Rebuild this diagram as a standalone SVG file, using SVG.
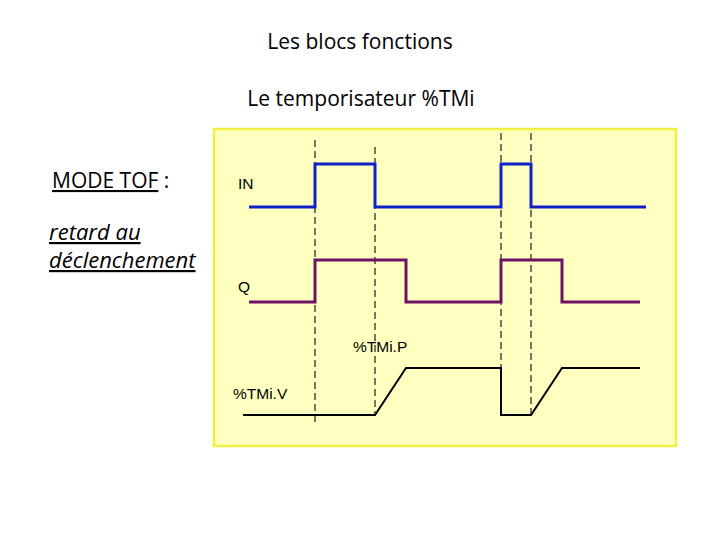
<svg xmlns="http://www.w3.org/2000/svg" width="720" height="540" viewBox="0 0 720 540">
<style>
.t{font-family:"Open Sans","Liberation Sans",sans-serif;fill:#000}
.big{font-size:21px}
.it{font-size:22px;font-style:italic}
.sm{font-family:"Liberation Sans",Arial,sans-serif;font-size:15.5px;fill:#000}
.dash{stroke:#7a7460;stroke-width:2;stroke-dasharray:7,4;fill:none}
.in{stroke:#1020c8;stroke-width:3;fill:none}
.q{stroke:#6e1268;stroke-width:3;fill:none}
.v{stroke:#000;stroke-width:2;fill:none}
</style>
<rect width="720" height="540" fill="#fff"/>
<text class="t big" x="360" y="49" text-anchor="middle">Les blocs fonctions</text>
<text class="t big" x="361" y="106" text-anchor="middle">Le temporisateur %TMi</text>
<g id="mode">
<text class="t big" x="52" y="188"><tspan text-decoration="underline">MODE TOF</tspan> :</text>
<text class="t it" x="49" y="240" text-decoration="underline">retard au</text>
<text class="t it" x="49" y="268" text-decoration="underline">déclenchement</text>
</g>
<g id="chart">
<rect x="214" y="129" width="462" height="317" fill="#ffffc0" stroke="#f0f040" stroke-width="2.5"/>
</g>
<g id="connectors">
<line class="dash" x1="315" y1="140" x2="315" y2="423"/>
<line class="dash" x1="375" y1="147" x2="375" y2="416"/>
<line class="dash" x1="501" y1="133" x2="501" y2="415"/>
<line class="dash" x1="531" y1="133" x2="531" y2="415"/>
</g>
<g id="signal-in">
<polyline class="in" points="249,207 315,207 315,164 375,164 375,207 501,207 501,164 531,164 531,207 646,207"/>
<text class="sm" x="238" y="189">IN</text>
</g>
<g id="signal-q">
<polyline class="q" points="249,302 315,302 315,260 406,260 406,302 501,302 501,260 562,260 562,302 640,302"/>
<text class="sm" x="238" y="292">Q</text>
</g>
<g id="signal-v">
<polyline class="v" points="243,415 375,415 406,368 501,368 501,415 531,415 562,368 640,368"/>
<text class="sm" x="353" y="352">%TMi.P</text>
<text class="sm" x="233" y="399">%TMi.V</text>
</g>
</svg>
